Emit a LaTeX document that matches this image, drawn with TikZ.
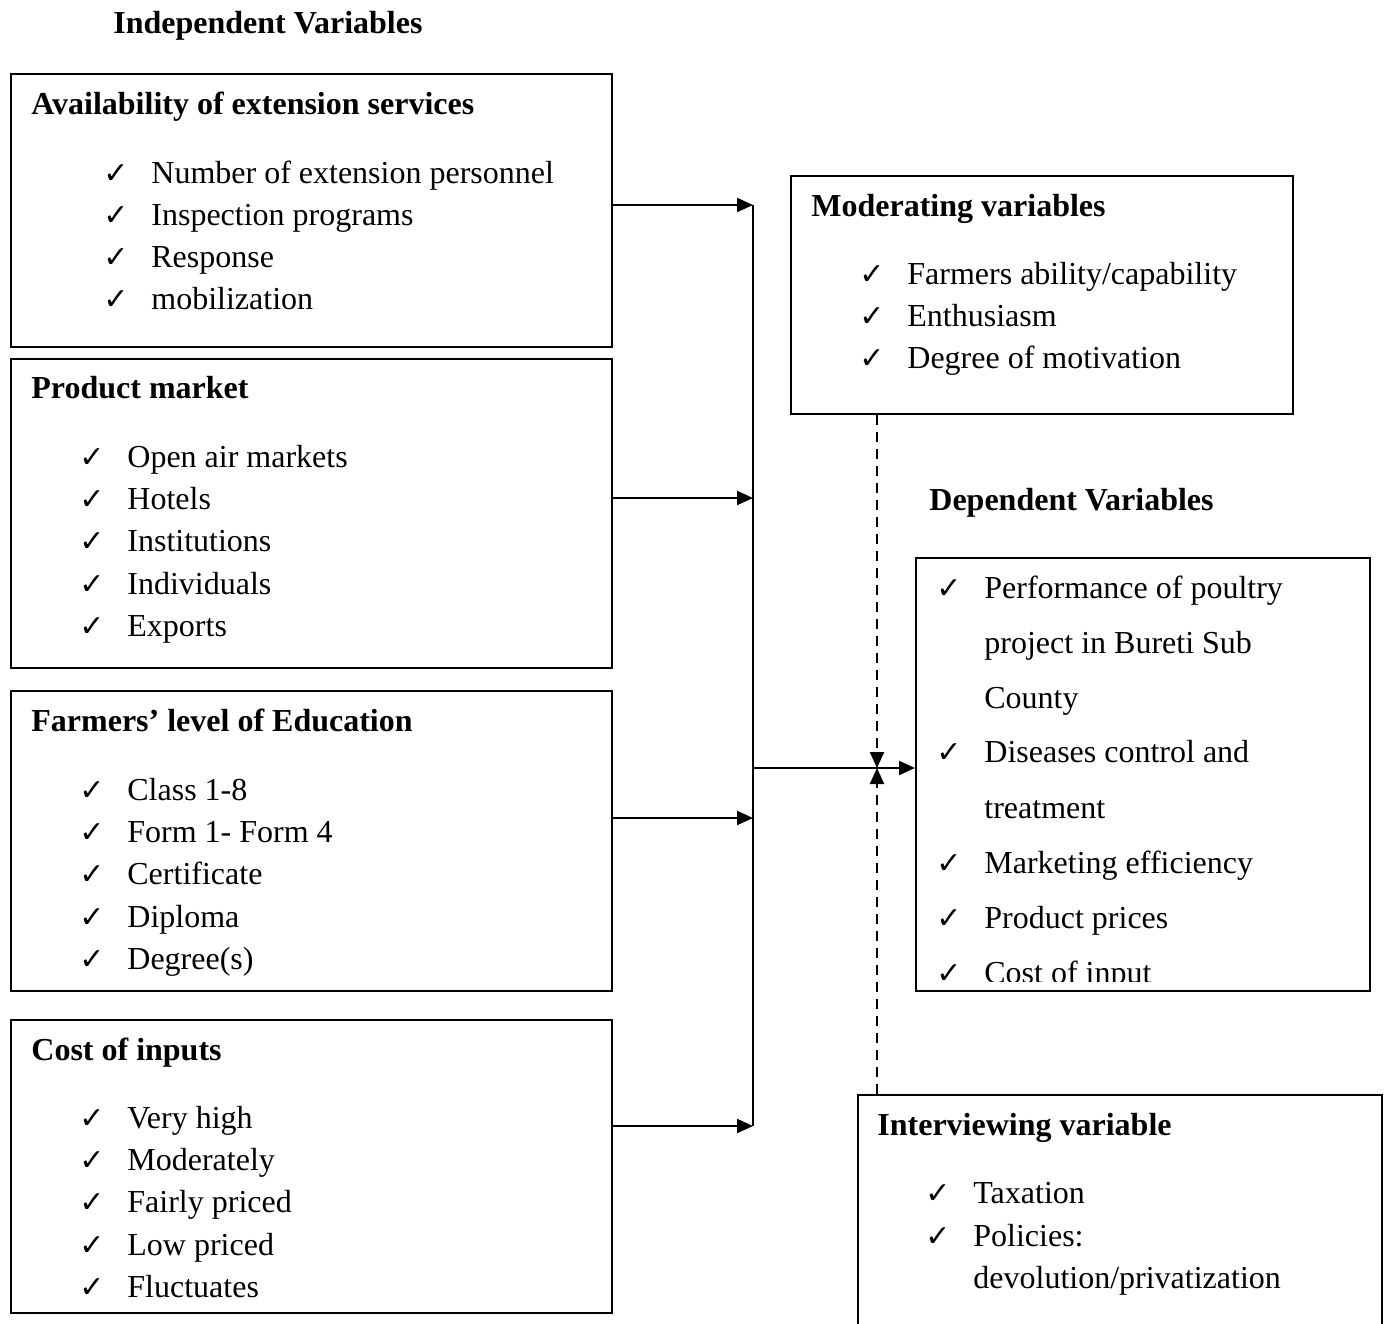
\documentclass[tikz,border=0pt]{standalone}
\usepackage{fontspec}
\setmainfont{Liberation Serif}
\newfontfamily\symfont{DejaVu Sans}
\usepackage{tikz}
\usetikzlibrary{arrows.meta}
\newcommand\tick{{\symfont\bfseries\fontsize{15}{17}\selectfont ✓}}
\newcommand\chk{\llap{\tick\hspace{11.5pt}}}
\tikzset{
  varbox/.style={rectangle,draw=black,line width=1pt,inner sep=0pt,anchor=north west,minimum width=300.5pt},
  head/.style={inner sep=0pt,anchor=base west,font=\fontsize{16}{19}\selectfont\bfseries},
  item/.style={inner sep=0pt,anchor=base west,font=\fontsize{16}{19}\selectfont},
  edge/.style={-{Triangle[length=8pt,width=7pt]},line width=1.1pt},
  dashedge/.style={edge,dash pattern=on 5pt off 3.5pt}
}
\begin{document}
\begin{tikzpicture}[x=0.5pt,y=-0.5pt]
  \useasboundingbox (0,0) rectangle (1389,1324);
  % independent side
  \node[head] (indep) at (113,33) {Independent Variables};
  \node[varbox,minimum height=136.5pt] (avail) at (10,73) {};
  \node[varbox,minimum height=154.5pt] (market) at (10,358) {};
  \node[varbox,minimum height=150pt] (educ) at (10,690) {};
  \node[varbox,minimum height=146.5pt] (cost) at (10,1019) {};
  \node[head] (avail-t) at (31,114) {Availability of extension services};
  \foreach \txt [count=\i from 0] in {Number of extension personnel,Inspection programs,Response,mobilization}
    \node[item] (avail-\i) at (151,183+42.3*\i) {\chk\txt};
  \node[head] (market-t) at (31,398.5) {Product market};
  \foreach \txt [count=\i from 0] in {Open air markets,Hotels,Institutions,Individuals,Exports}
    \node[item] (market-\i) at (127,467.5+42.2*\i) {\chk\txt};
  \node[head] (educ-t) at (31,731.5) {Farmers’ level of Education};
  \foreach \txt [count=\i from 0] in {Class 1-8,Form 1- Form 4,Certificate,Diploma,Degree(s)}
    \node[item] (educ-\i) at (127,800.5+42.2*\i) {\chk\txt};
  \node[head] (cost-t) at (31,1060.5) {Cost of inputs};
  \foreach \txt [count=\i from 0] in {Very high,Moderately,Fairly priced,Low priced,Fluctuates}
    \node[item] (cost-\i) at (127,1128.5+42.2*\i) {\chk\txt};
  % moderating
  \node[varbox,minimum width=251pt,minimum height=119pt] (moder) at (790,175) {};
  \node[head] (moder-t) at (811,216.5) {Moderating variables};
  \foreach \txt [count=\i from 0] in {Farmers ability/capability,Enthusiasm,Degree of motivation}
    \node[item] (moder-\i) at (907,284.5+42*\i) {\chk\txt};
  % dependent
  \node[head] (depend) at (929,510.5) {Dependent Variables};
  \node[varbox,minimum width=227pt,minimum height=216.5pt] (dep) at (915,557) {};
  \begin{scope}
    \clip (915,557) rectangle (1369,981);
    \node[item] (dep-1) at (984,598.5) {\chk Performance of poultry};
    \node[item] (dep-2) at (984,653.5) {project in Bureti Sub};
    \node[item] (dep-3) at (984,708.5) {County};
    \node[item] (dep-4) at (984,762.5) {\chk Diseases control and};
    \node[item] (dep-5) at (984,818.5) {treatment};
    \node[item] (dep-6) at (984,873.5) {\chk Marketing efficiency};
    \node[item] (dep-7) at (984,928.5) {\chk Product prices};
    \node[item] (dep-8) at (984,983.5) {\chk Cost of input};
  \end{scope}
  % interviewing
  \node[varbox,minimum width=262pt,minimum height=130pt] (interv) at (857,1094) {};
  \node[head] (interv-t) at (877,1135.5) {Interviewing variable};
  \node[item] (interv-1) at (973,1203.5) {\chk Taxation};
  \node[item] (interv-2) at (973,1246.5) {\chk Policies:};
  \node[item] (interv-3) at (973,1288.5) {devolution/privatization};
  % connectors
  \coordinate (b1) at (753,205);
  \coordinate (b2) at (753,498);
  \coordinate (b3) at (753,818);
  \coordinate (b4) at (753,1126);
  \coordinate (bmid) at (753,768);
  \coordinate (meet) at (877,768);
  \draw[line width=1.1pt] (b1) -- (b4);
  \draw[edge] (avail.east |- b1) -- (b1);
  \draw[edge] (market.east |- b2) -- (b2);
  \draw[edge] (educ.east |- b3) -- (b3);
  \draw[edge] (cost.east |- b4) -- (b4);
  \draw[edge] (bmid) -- (dep.west |- bmid);
  \draw[dashedge] (moder.south -| meet) -- (meet);
  \draw[dashedge] (interv.north -| meet) -- (meet);
\end{tikzpicture}
\end{document}
